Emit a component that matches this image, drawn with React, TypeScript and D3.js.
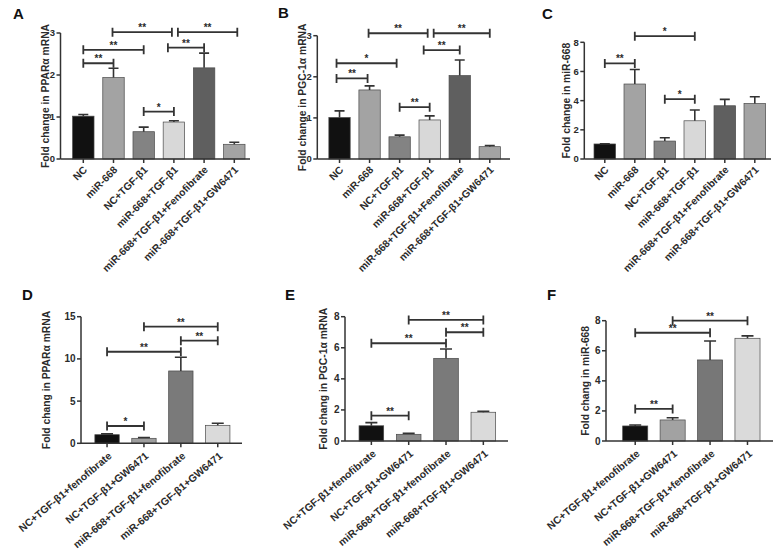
import React from "react";
import * as d3 from "d3";

// ---------- DATA ----------
const topCategories = [
  "NC",
  "miR-668",
  "NC+TGF-β1",
  "miR-668+TGF-β1",
  "miR-668+TGF-β1+Fenofibrate",
  "miR-668+TGF-β1+GW6471",
];
const bottomCategories = [
  "NC+TGF-β1+fenofibrate",
  "NC+TGF-β1+GW6471",
  "miR-668+TGF-β1+fenofibrate",
  "miR-668+TGF-β1+GW6471",
];

const pparaMeans = [1.02, 1.94, 0.65, 0.88, 2.17, 0.35];
const pparaUpper = [1.06, 2.16, 0.76, 0.91, 2.52, 0.4];
const pgcMeans = [1.01, 1.68, 0.54, 0.95, 2.03, 0.3];
const pgcUpper = [1.17, 1.78, 0.58, 1.05, 2.41, 0.33];
const mirMeans = [1.03, 5.14, 1.23, 2.62, 3.65, 3.81];
const mirUpper = [1.05, 6.14, 1.46, 3.36, 4.09, 4.27];

const pparaDrugMeans = [1.02, 0.59, 8.57, 2.13];
const pparaDrugUpper = [1.12, 0.68, 10.19, 2.37];
const pgcDrugMeans = [0.98, 0.43, 5.32, 1.85];
const pgcDrugUpper = [1.18, 0.49, 5.92, 1.91];
const mirDrugMeans = [1.0, 1.4, 5.39, 6.83];
const mirDrugUpper = [1.06, 1.55, 6.65, 6.99];

const ticksA = [0, 1, 2, 3];
const ticksB = [0, 1, 2, 3];
const ticksC = [0, 2, 4, 6, 8];
const ticksD = [0, 5, 10, 15];
const ticksE = [0, 2, 4, 6, 8];
const ticksF = [0, 2, 4, 6, 8];

// brackets: [fromIndex, toIndex, level (data units), label]
const bracketsA: [number, number, number, string][] = [
  [0, 1, 2.28, "**"],
  [0, 2, 2.6, "**"],
  [1, 3, 3.02, "**"],
  [2, 3, 1.13, "*"],
  [3, 4, 2.65, "**"],
  [3, 5, 3.02, "**"],
];
const bracketsB: [number, number, number, string][] = [
  [0, 1, 1.96, "**"],
  [0, 2, 2.33, "*"],
  [1, 3, 3.06, "**"],
  [2, 3, 1.26, "**"],
  [3, 4, 2.65, "**"],
  [3, 5, 3.06, "**"],
];
const bracketsC: [number, number, number, string][] = [
  [0, 1, 6.55, "**"],
  [1, 3, 8.42, "*"],
  [2, 3, 4.1, "*"],
];
const bracketsD: [number, number, number, string][] = [
  [0, 1, 2.05, "*"],
  [0, 2, 10.85, "**"],
  [1, 3, 13.82, "**"],
  [2, 3, 12.16, "**"],
];
const bracketsE: [number, number, number, string][] = [
  [0, 1, 1.63, "**"],
  [0, 2, 6.29, "**"],
  [1, 3, 7.79, "**"],
  [2, 3, 7.0, "**"],
];
const bracketsF: [number, number, number, string][] = [
  [0, 1, 2.13, "**"],
  [0, 2, 7.2, "**"],
  [1, 3, 8.0, "**"],
];

// ---------- STYLE / LAYOUT ----------
const topColors = ["#111111", "#a3a3a3", "#838383", "#d8d8d8", "#5f5f5f", "#a3a3a3"];
const dColors = ["#111111", "#9e9e9e", "#7a7a7a", "#dadada"];
const eColors = ["#111111", "#8c8c8c", "#7a7a7a", "#dadada"];
const fColors = ["#111111", "#a2a2a2", "#777777", "#dadada"];

const FONT = "'Liberation Sans', Arial, Helvetica, sans-serif";
const INK = "#2b2b2b";

type PanelSpec = {
  letter: string;
  letterX: number;
  letterY: number;
  categories: string[];
  means: number[];
  upper: number[];
  ticks: number[];
  brackets: [number, number, number, string][];
  colors: string[];
  yLabel: string;
  axisX: number;
  axisEnd: number;
  bandR0: number;
  bandR1: number;
  padIn: number;
  y0: number;
  yTop: number;
  labelX: number;
  tickFont: number;
  xFont: number;
  xRot: number;
  xdx: number;
  xdy: number;
  capHalf: number;
  nudges?: Record<string, [number, number]>;
};

const panels: PanelSpec[] = [
  {
    letter: "A", letterX: 13, letterY: 19,
    categories: topCategories, means: pparaMeans, upper: pparaUpper, ticks: ticksA,
    brackets: bracketsA, colors: topColors, yLabel: "Fold change in PPARα mRNA",
    axisX: 60.5, axisEnd: 250, bandR0: 68.2, bandR1: 249.4, padIn: 0.29,
    y0: 159, yTop: 33, labelX: 45, tickFont: 9.5, xFont: 10.3, xRot: -45, xdx: 2, xdy: 9, capHalf: 5,
    nudges: { "3-4": [-6, 0], "3-5": [4, 3], "1-3": [-1, -2] },
  },
  {
    letter: "B", letterX: 278, letterY: 18,
    categories: topCategories, means: pgcMeans, upper: pgcUpper, ticks: ticksB,
    brackets: bracketsB, colors: topColors, yLabel: "Fold change in PGC-1α mRNA",
    axisX: 317.3, axisEnd: 510, bandR0: 324.5, bandR1: 504.8, padIn: 0.29,
    y0: 159, yTop: 35.7, labelX: 302.7, tickFont: 9.5, xFont: 10.3, xRot: -45, xdx: 2, xdy: 9, capHalf: 5,
    nudges: { "3-4": [-6, 0], "3-5": [4, 0], "1-3": [-1, -2], "0-1": [-3, -2], "0-2": [-3, -3] },
  },
  {
    letter: "C", letterX: 542, letterY: 19,
    categories: topCategories, means: mirMeans, upper: mirUpper, ticks: ticksC,
    brackets: bracketsC, colors: topColors, yLabel: "Fold change in miR-668",
    axisX: 584.3, axisEnd: 771, bandR0: 589.8, bandR1: 769.8, padIn: 0.28,
    y0: 159, yTop: 42.3, labelX: 566.7, tickFont: 9.5, xFont: 10.3, xRot: -45, xdx: 2, xdy: 9, capHalf: 5,
  },
  {
    letter: "D", letterX: 22, letterY: 300,
    categories: bottomCategories, means: pparaDrugMeans, upper: pparaDrugUpper, ticks: ticksD,
    brackets: bracketsD, colors: dColors, yLabel: "Fold chang in PPARα mRNA",
    axisX: 81, axisEnd: 242, bandR0: 88.6, bandR1: 236.2, padIn: 0.34,
    y0: 443.3, yTop: 316.7, labelX: 46.7, tickFont: 10, xFont: 10.4, xRot: -40, xdx: 3, xdy: 11, capHalf: 6,
  },
  {
    letter: "E", letterX: 285, letterY: 300,
    categories: bottomCategories, means: pgcDrugMeans, upper: pgcDrugUpper, ticks: ticksE,
    brackets: bracketsE, colors: eColors, yLabel: "Fold chang in PGC-1α mRNA",
    axisX: 345, axisEnd: 508, bandR0: 352.7, bandR1: 502, padIn: 0.34,
    y0: 441, yTop: 316.7, labelX: 323, tickFont: 10, xFont: 10.4, xRot: -40, xdx: 3, xdy: 11, capHalf: 6,
  },
  {
    letter: "F", letterX: 547, letterY: 300,
    categories: bottomCategories, means: mirDrugMeans, upper: mirDrugUpper, ticks: ticksF,
    brackets: bracketsF, colors: fColors, yLabel: "Fold chang in miR-668",
    axisX: 606, axisEnd: 773, bandR0: 616.5, bandR1: 766.2, padIn: 0.33,
    y0: 441, yTop: 320.7, labelX: 585, tickFont: 10, xFont: 10.4, xRot: -40, xdx: 3, xdy: 11, capHalf: 6,
  },
];

function Panel({ p }: { p: PanelSpec }) {
  const x = d3
    .scaleBand<string>()
    .domain(p.categories)
    .range([p.bandR0, p.bandR1])
    .paddingInner(p.padIn)
    .paddingOuter(p.padIn / 2);
  const yMax = p.ticks[p.ticks.length - 1];
  const y = d3.scaleLinear().domain([0, yMax]).range([p.y0, p.yTop]);
  const bw = x.bandwidth();
  const cx = (i: number) => (x(p.categories[i]) as number) + bw / 2;

  return (
    <g fontFamily={FONT}>
      <text x={p.letterX} y={p.letterY} fontSize={15} fontWeight="bold" fill="#111">
        {p.letter}
      </text>
      {/* y label */}
      <text
        transform={`translate(${p.labelX},${(p.y0 + p.yTop) / 2}) rotate(-90)`}
        textAnchor="middle"
        dy="0.35em"
        fontSize={10.3}
        fontWeight="bold"
        fill={INK}
      >
        {p.yLabel}
      </text>
      {/* bars */}
      {p.means.map((m, i) => (
        <rect
          key={"b" + i}
          x={x(p.categories[i])}
          y={y(m)}
          width={bw}
          height={y(0) - y(m)}
          fill={p.colors[i]}
          stroke="#4a4a4a"
          strokeWidth={0.7}
        />
      ))}
      {/* error bars */}
      {p.upper.map((u, i) => (
        <path
          key={"e" + i}
          d={`M${cx(i)},${y(p.means[i])}V${y(u)}M${cx(i) - p.capHalf},${y(u)}H${cx(i) + p.capHalf}`}
          stroke="#333"
          strokeWidth={1.6}
          fill="none"
        />
      ))}
      {/* y axis */}
      <path d={`M${p.axisX},${y(yMax)}V${p.y0}`} stroke="#333" strokeWidth={1.5} fill="none" />
      {p.ticks.map((t) => (
        <g key={"t" + t}>
          <path d={`M${p.axisX - 4},${y(t)}H${p.axisX}`} stroke="#333" strokeWidth={1.5} />
          <text
            x={p.axisX - 5.5}
            y={y(t)}
            dy="0.35em"
            textAnchor="end"
            fontSize={p.tickFont}
            fontWeight="bold"
            fill={INK}
          >
            {t}
          </text>
        </g>
      ))}
      {/* x axis */}
      <path d={`M${p.axisX},${p.y0}H${p.axisEnd}`} stroke="#333" strokeWidth={1.5} fill="none" />
      {p.categories.map((c, i) => (
        <g key={"x" + i}>
          <path d={`M${cx(i)},${p.y0}V${p.y0 + 4}`} stroke="#333" strokeWidth={1.5} />
          <text
            transform={`translate(${cx(i) + p.xdx},${p.y0 + p.xdy}) rotate(${p.xRot})`}
            textAnchor="end"
            dy="0.35em"
            fontSize={p.xFont}
            fontWeight="bold"
            fill={INK}
          >
            {c}
          </text>
        </g>
      ))}
      {/* significance brackets */}
      {p.brackets.map(([a, b, lvl, lab], k) => {
        const n = (p.nudges && p.nudges[`${a}-${b}`]) || [0, 0];
        const x1 = cx(a) + n[0];
        const x2 = cx(b) + n[1];
        const yy = y(lvl);
        return (
          <g key={"s" + k}>
            <path
              d={`M${x1},${yy - 4.5}V${yy + 4.5}M${x1},${yy}H${x2}M${x2},${yy - 4.5}V${yy + 4.5}`}
              stroke="#333"
              strokeWidth={1.8}
              fill="none"
            />
            <text
              x={(x1 + x2) / 2}
              y={yy - 1}
              textAnchor="middle"
              fontSize={10}
              fontWeight="bold"
              fill={INK}
            >
              {lab}
            </text>
          </g>
        );
      })}
    </g>
  );
}

export default function App() {
  return (
    <svg
      width={781}
      height={552}
      style={{ position: "absolute", left: 0, top: 0, background: "#fff" }}
    >
      <rect width={781} height={552} fill="#fff" />
      {panels.map((p) => (
        <Panel key={p.letter} p={p} />
      ))}
    </svg>
  );
}
